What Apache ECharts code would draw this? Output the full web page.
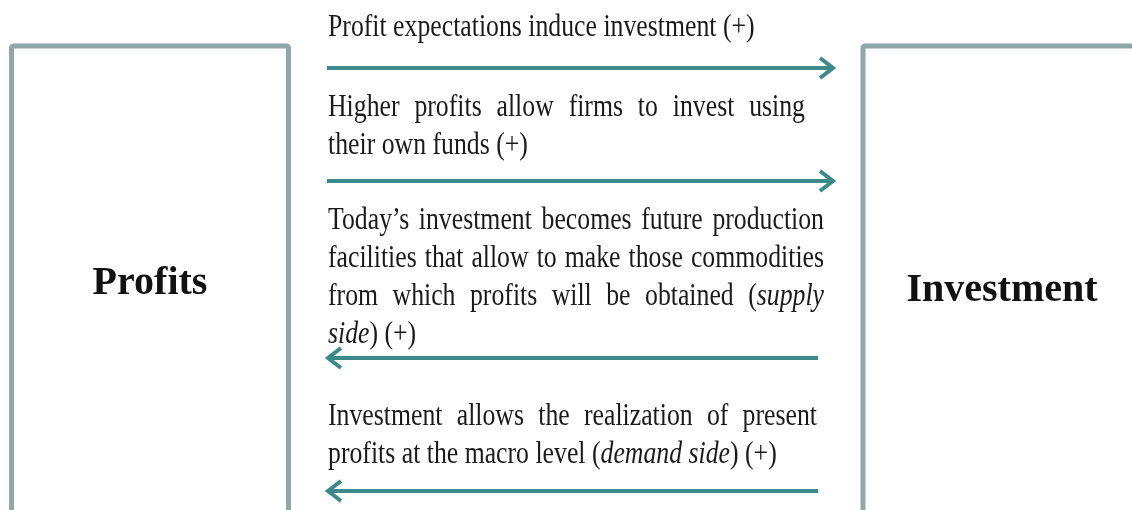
<!DOCTYPE html>
<html>
<head>
<meta charset="utf-8">
<script src="https://cdn.jsdelivr.net/npm/echarts@6/dist/echarts.min.js"></script>
<style>
  html, body { margin: 0; padding: 0; background: #fff; }
  #main { width: 1132px; height: 510px; }
</style>
</head>
<body>
<div id="main"></div>
<script>
// diagram content
const nodeLabels = ['Profits', 'Investment'];
// 1 = Profits -> Investment, -1 = Investment -> Profits
const linkDirections = [1, 1, -1, -1];
// caption lines, *...* marks italic
const linkCaptions = [
  ['Profit expectations induce investment (+)'],
  ['Higher profits allow firms to invest using', 'their own funds (+)'],
  ['Today\u2019s investment becomes future production',
    'facilities that allow to make those commodities',
    'from which profits will be obtained (*supply*',
    '*side*) (+)'],
  ['Investment allows the realization of present',
    'profits at the macro level (*demand side*) (+)']
];

// layout (diagram units = pixels of the 1132x510 canvas)
const boxLeft = [11.5, 863];
const boxRight = [288.5, 1170];
const boxTop = 46;
const boxBottom = 560;
const labelX = [150, 1002];
const labelY = [284, 291];
const arrowY = [68, 181, 358, 491];
const arrowLeft = [327, 327, 328, 328];
const arrowRight = [833, 833, 818, 818];
const captionX = 328;
const captionY = [28, 108, 221, 417];
const captionRight = [0, 805, 824, 817];
const lineGap = 38;

const capFont = 'Liberation Serif';
const capSize = 32;
const capScale = 0.805;
const boxColor = '#8fa7a9';
const arrowColor = '#3d8a8c';

const chart = echarts.init(document.getElementById('main'));

const measureCtx = document.createElement('canvas').getContext('2d');
function segs(word) {
  // split word into [text, italic] pieces
  const out = [];
  word.split('*').forEach((t, i) => { if (t) out.push([t, i % 2 === 1]); });
  return out;
}
function wordWidth(word) {
  let w = 0;
  segs(word).forEach(([t, it]) => {
    measureCtx.font = (it ? 'italic ' : '') + capSize + 'px "' + capFont + '"';
    w += measureCtx.measureText(t).width;
  });
  return w;
}
function splitWords(line) {
  // keep italic markers balanced across word boundaries
  const words = [];
  let inIt = false;
  line.split(' ').forEach(w => {
    let s = (inIt ? '*' : '') + w;
    const n = (w.match(/\*/g) || []).length;
    if (n % 2 === 1) inIt = !inIt;
    if (inIt) s += '*';
    words.push(s.replace(/\*\*/g, ''));
  });
  return words;
}
function richOf(word) {
  return segs(word).map(([t, it]) => '{' + (it ? 'i' : 'r') + '|' + t + '}').join('');
}

const captionData = [];
linkCaptions.forEach((lines, p) => {
  lines.forEach((line, li) => {
    captionData.push([captionX, captionY[p] + li * lineGap, p, li]);
  });
});

chart.setOption({
  animation: false,
  grid: { left: 0, right: 0, top: 0, bottom: 0 },
  xAxis: { type: 'value', min: 0, max: 1132, show: false },
  yAxis: { type: 'value', min: 0, max: 510, inverse: true, show: false },
  series: [
    {
      name: 'boxes',
      type: 'custom',
      clip: false,
      data: nodeLabels.map((n, i) => [boxLeft[i], boxTop, boxRight[i], boxBottom, labelX[i], labelY[i]]),
      renderItem(params, api) {
        const i = params.dataIndex;
        const a = api.coord([api.value(0), api.value(1)]);
        const b = api.coord([api.value(2), api.value(3)]);
        const c = api.coord([api.value(4), api.value(5)]);
        return {
          type: 'group',
          children: [
            {
              type: 'rect',
              shape: { x: a[0], y: a[1], width: b[0] - a[0], height: b[1] - a[1], r: 2 },
              style: { fill: null, stroke: boxColor, lineWidth: 5 }
            },
            {
              type: 'text',
              x: c[0], y: c[1],
              style: {
                text: nodeLabels[i],
                font: 'bold 40px "Liberation Serif"',
                fill: '#111',
                align: 'center',
                verticalAlign: 'middle'
              }
            }
          ]
        };
      }
    },
    {
      name: 'arrows',
      type: 'custom',
      clip: false,
      data: linkDirections.map((d, i) => [arrowLeft[i], arrowRight[i], arrowY[i], d]),
      renderItem(params, api) {
        const l = api.coord([api.value(0), api.value(2)]);
        const r = api.coord([api.value(1), api.value(2)]);
        const dir = api.value(3);
        const tip = dir > 0 ? r : l;
        const hl = 13, hh = 10;
        const back = tip[0] - dir * hl;
        return {
          type: 'group',
          children: [
            {
              type: 'line',
              shape: { x1: l[0] + (dir < 0 ? 2 : 0), y1: l[1], x2: r[0] - (dir > 0 ? 2 : 0), y2: r[1] },
              style: { stroke: arrowColor, lineWidth: 4 }
            },
            {
              type: 'polyline',
              shape: { points: [[back, tip[1] - hh], [tip[0], tip[1]], [back, tip[1] + hh]] },
              style: { stroke: arrowColor, lineWidth: 4, fill: null, lineJoin: 'miter', lineCap: 'butt' }
            }
          ]
        };
      }
    },
    {
      name: 'captions',
      type: 'custom',
      clip: false,
      data: captionData,
      renderItem(params, api) {
        const p = api.value(2), li = api.value(3);
        const lines = linkCaptions[p];
        const pos = api.coord([api.value(0), api.value(1)]);
        const words = splitWords(lines[li]);
        const widths = words.map(wordWidth);
        const total = widths.reduce((s, w) => s + w, 0);
        measureCtx.font = capSize + 'px "' + capFont + '"';
        let gap = measureCtx.measureText(' ').width;
        const last = li === lines.length - 1;
        if (!last && words.length > 1) {
          const right = api.coord([captionRight[p], 0])[0];
          gap = ((right - pos[0]) / capScale - total) / (words.length - 1);
        }
        let x = 0;
        const children = words.map((w, k) => {
          const el = {
            type: 'text',
            x: x, y: 0,
            style: {
              text: richOf(w),
              align: 'left',
              verticalAlign: 'middle',
              rich: {
                r: { fontFamily: capFont, fontSize: capSize, fill: '#1a1a1a' },
                i: { fontFamily: capFont, fontSize: capSize, fontStyle: 'italic', fill: '#1a1a1a' }
              }
            }
          };
          x += widths[k] + gap;
          return el;
        });
        return { type: 'group', x: pos[0], y: pos[1], scaleX: capScale, children };
      }
    }
  ]
});
</script>
</body>
</html>
